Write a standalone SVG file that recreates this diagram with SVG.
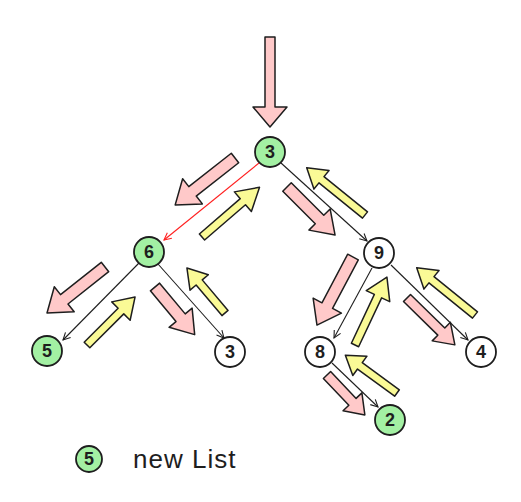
<svg xmlns="http://www.w3.org/2000/svg" width="521" height="502" viewBox="0 0 521 502">
<defs>
<style>
.node circle{stroke:#1e1e1e;stroke-width:1.8}
.g{fill:#a3f0a3}
.w{fill:#ffffff}
.node text{font-family:"Liberation Sans",Arial,sans-serif;font-size:18px;font-weight:bold;fill:#1e1e1e;text-anchor:middle;dominant-baseline:central}
.edge{stroke:#1e1e1e;stroke-width:1.1;fill:none}
.red{stroke:#ff2020}
.pk{fill:#ffc9c9;stroke:#1e1e1e;stroke-width:1.5;stroke-linejoin:round}
.yl{fill:#fafa96;stroke:#1e1e1e;stroke-width:1.5;stroke-linejoin:round}
.lbl{font-family:"Liberation Sans",Arial,sans-serif;font-size:26px;fill:#1e1e1e;letter-spacing:1px}
</style>
<marker id="ah" viewBox="0 0 10 10" refX="9" refY="5" markerWidth="9" markerHeight="9" orient="auto" markerUnits="userSpaceOnUse">
<path d="M1,1 L9,5 L1,9" fill="none" stroke="#1e1e1e" stroke-width="1.2"/>
</marker>
<marker id="ahr" viewBox="0 0 10 10" refX="9" refY="5" markerWidth="9" markerHeight="9" orient="auto" markerUnits="userSpaceOnUse">
<path d="M1,1 L9,5 L1,9" fill="none" stroke="#ff2020" stroke-width="1.2"/>
</marker>
</defs>
<rect width="521" height="502" fill="#ffffff"/>

<g id="connectors">
<line class="edge red" x1="259" y1="163" x2="164" y2="240" marker-end="url(#ahr)"/>
<line class="edge" x1="281" y1="163" x2="367" y2="241" marker-end="url(#ah)"/>
<line class="edge" x1="139" y1="263" x2="63" y2="340" marker-end="url(#ah)"/>
<line class="edge" x1="158" y1="264" x2="224" y2="338" marker-end="url(#ah)"/>
<line class="edge" x1="372" y1="268" x2="334" y2="338" marker-end="url(#ah)"/>
<line class="edge" x1="391" y1="265" x2="468" y2="340" marker-end="url(#ah)"/>
<line class="edge" x1="332" y1="363" x2="378" y2="407" marker-end="url(#ah)"/>
</g>

<g id="flow-arrows">
<polygon class="pk" transform="translate(270,37) rotate(90)" points="0,-5 70,-5 70,-17 90,0 70,17 70,5 0,5"/>
<polygon class="pk" transform="translate(235,158) rotate(141.9)" points="0,-6 54,-6 54,-16 76,0 54,16 54,6 0,6"/>
<polygon class="yl" transform="translate(202,237) rotate(-40.8)" points="0,-4 54,-4 54,-13 76,0 54,13 54,4 0,4"/>
<polygon class="pk" transform="translate(287,187) rotate(45)" points="0,-6 46,-6 46,-15 68,0 46,15 46,6 0,6"/>
<polygon class="yl" transform="translate(365,215) rotate(-141)" points="0,-4 56,-4 56,-12 75,0 56,12 56,4 0,4"/>
<polygon class="pk" transform="translate(105,267) rotate(141.6)" points="0,-6 52,-6 52,-16 74,0 52,16 52,6 0,6"/>
<polygon class="yl" transform="translate(87,345) rotate(-45)" points="0,-4 48,-4 48,-13 68,0 48,13 48,4 0,4"/>
<polygon class="pk" transform="translate(155,287) rotate(50.2)" points="0,-6 40,-6 40,-15 62,0 40,15 40,6 0,6"/>
<polygon class="yl" transform="translate(225,313) rotate(-130.2)" points="0,-4 40,-4 40,-12 59,0 40,12 40,4 0,4"/>
<polygon class="pk" transform="translate(353,257) rotate(117.9)" points="0,-6 55,-6 55,-16 77,0 55,16 55,6 0,6"/>
<polygon class="yl" transform="translate(355,345) rotate(-64.8)" points="0,-4 54,-4 54,-13 75,0 54,13 54,4 0,4"/>
<polygon class="pk" transform="translate(407,298) rotate(44.4)" points="0,-5 48,-5 48,-13 67,0 48,13 48,5 0,5"/>
<polygon class="yl" transform="translate(475,315) rotate(-141)" points="0,-4 56,-4 56,-12 75,0 56,12 56,4 0,4"/>
<polygon class="pk" transform="translate(327,375) rotate(46.5)" points="0,-5 37,-5 37,-13 55,0 37,13 37,5 0,5"/>
<polygon class="yl" transform="translate(397,393) rotate(-143.8)" points="0,-4 46,-4 46,-12 64,0 46,12 46,4 0,4"/>
</g>

<g id="node-3-root" class="node"><circle class="g" cx="270" cy="152" r="15"/><text x="270" y="152">3</text></g>
<g id="node-6" class="node"><circle class="g" cx="149" cy="252" r="15"/><text x="149" y="252">6</text></g>
<g id="node-9" class="node"><circle class="w" cx="379" cy="253" r="15"/><text x="379" y="253">9</text></g>
<g id="node-5" class="node"><circle class="g" cx="47" cy="351" r="15"/><text x="47" y="351">5</text></g>
<g id="node-3-leaf" class="node"><circle class="w" cx="230" cy="352" r="15"/><text x="230" y="352">3</text></g>
<g id="node-8" class="node"><circle class="w" cx="320" cy="352" r="15"/><text x="320" y="352">8</text></g>
<g id="node-4" class="node"><circle class="w" cx="481" cy="352" r="15"/><text x="481" y="352">4</text></g>
<g id="node-2" class="node"><circle class="g" cx="390" cy="420" r="15"/><text x="390" y="420">2</text></g>

<g id="legend" class="node"><circle class="g" cx="89" cy="459" r="13"/><text x="89" y="459">5</text>
<text class="lbl" x="133" y="468" style="text-anchor:start;font-weight:normal;font-size:26px;dominant-baseline:auto">new List</text></g>
</svg>
